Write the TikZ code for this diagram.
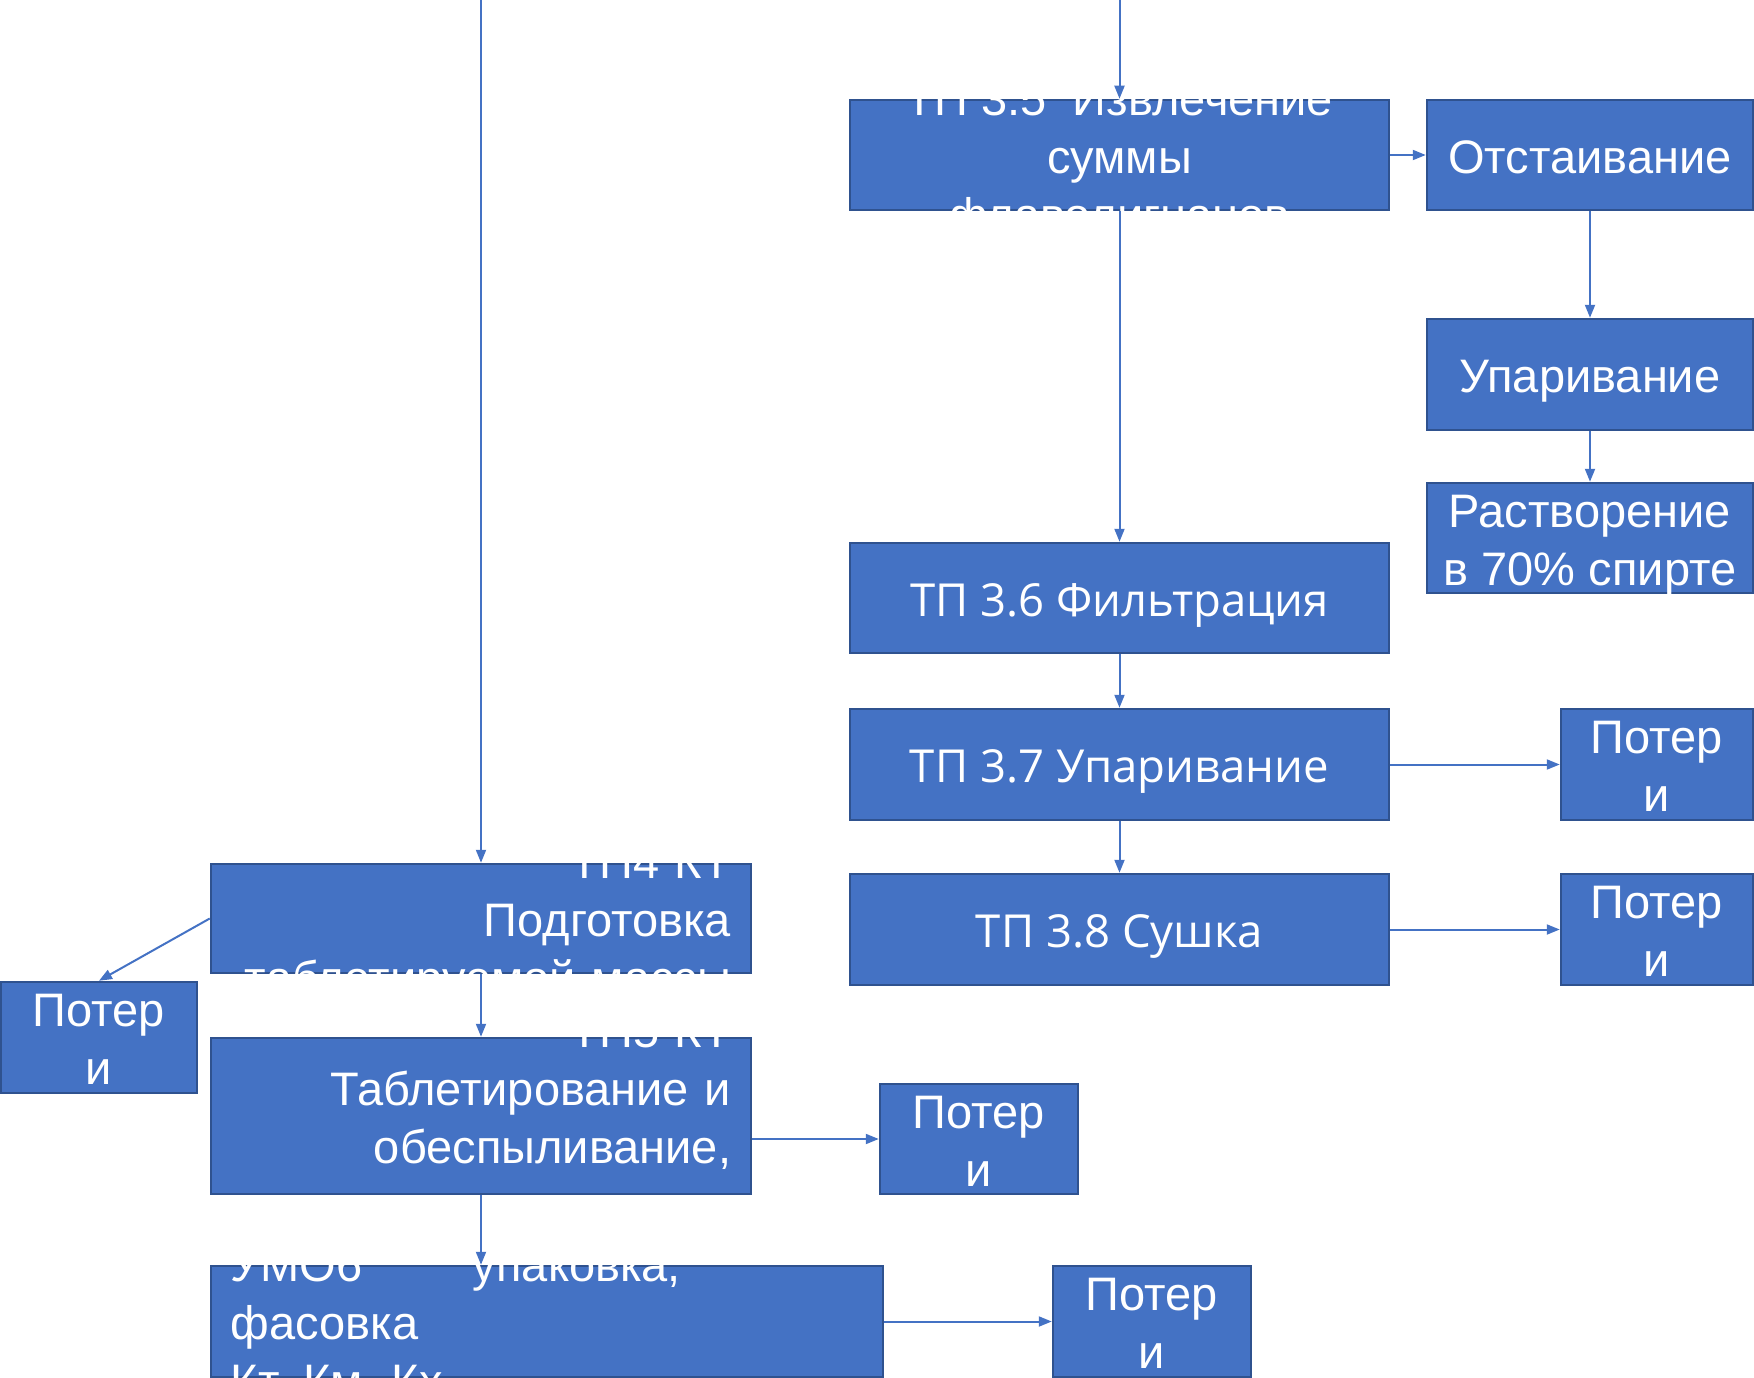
\documentclass[tikz,border=0pt]{standalone}
\usepackage{fontspec}
\setmainfont{Liberation Sans}
\newfontfamily\segf{Open Sans}
\usetikzlibrary{arrows.meta,calc}
\definecolor{boxc}{HTML}{4472C4}
\definecolor{bordc}{HTML}{2F528F}
\definecolor{linec}{HTML}{4472C4}
\newcommand\ls{\rule[-11pt]{0pt}{58pt}}
\newcommand\cliptext[4]{\begin{scope}\clip (#1.south west) rectangle (#1.north east);\node[#2] at (#3) {#4};\end{scope}}
\begin{document}
\begin{tikzpicture}[x=1pt,y=-1pt,
 pbox/.style={draw=bordc,line width=2.5pt,fill=boxc,rectangle,inner sep=0pt},
 ttxt/.style={text=white,inner sep=0pt,font=\fontsize{47}{58}\selectfont},
 stxt/.style={text=white,inner sep=0pt,font=\segf\fontsize{45.5}{58}\selectfont},
 conn/.style={draw=linec,line width=2pt,-{Triangle[length=13pt,width=10pt]}}]
\useasboundingbox (0,0) rectangle (1754,1378);
% boxes
\node[pbox,minimum width=539pt,minimum height=110pt] (a) at (1119.5,155) {};
\node[pbox,minimum width=326pt,minimum height=110pt] (otst) at (1590,155) {};
\node[pbox,minimum width=326pt,minimum height=111pt] (upar) at (1590,374.5) {};
\node[pbox,minimum width=326pt,minimum height=110pt] (rastv) at (1590,538) {};
\node[pbox,minimum width=539pt,minimum height=110pt] (t36) at (1119.5,598) {};
\node[pbox,minimum width=539pt,minimum height=111pt] (t37) at (1119.5,764.5) {};
\node[pbox,minimum width=539pt,minimum height=111pt] (t38) at (1119.5,929.5) {};
\node[pbox,minimum width=192pt,minimum height=111pt] (p37) at (1657,764.5) {};
\node[pbox,minimum width=192pt,minimum height=111pt] (p38) at (1657,929.5) {};
\node[pbox,minimum width=540pt,minimum height=109pt] (t4) at (481,918.5) {};
\node[pbox,minimum width=196pt,minimum height=111pt] (pl) at (99,1037.5) {};
\node[pbox,minimum width=540pt,minimum height=156pt] (t5) at (481,1116) {};
\node[pbox,minimum width=198pt,minimum height=110pt] (pm) at (979,1139) {};
\node[pbox,minimum width=672pt,minimum height=111pt] (u6) at (547,1321.5) {};
\node[pbox,minimum width=198pt,minimum height=111pt] (pb) at (1152,1321.5) {};
% texts
\cliptext{a}{ttxt,align=center,name=at}{a.center}{\ls ТП 3.5\ \ Извлечение\\\ls суммы\\\ls флаволигнанов}
\cliptext{otst}{ttxt,align=center,name=otstt}{otst.center}{\ls Отстаивание}
\cliptext{upar}{ttxt,align=center,name=upart}{upar.center}{\ls Упаривание}
\cliptext{rastv}{ttxt,align=center,name=rastvt}{rastv.center}{\ls Растворение\\\ls в 70\% спирте}
\cliptext{t36}{stxt,align=center,name=t36t}{t36.center}{\ls ТП 3.6 Фильтрация}
\cliptext{t37}{stxt,align=center,name=t37t}{t37.center}{\ls ТП 3.7 Упаривание}
\cliptext{t38}{stxt,align=center,name=t38t}{t38.center}{\ls ТП 3.8 Сушка}
\cliptext{p37}{ttxt,align=center,name=p37t}{p37.center}{\ls Потер\\\ls и}
\cliptext{p38}{ttxt,align=center,name=p38t}{p38.center}{\ls Потер\\\ls и}
\cliptext{pl}{ttxt,align=center,name=plt}{pl.center}{\ls Потер\\\ls и}
\cliptext{pm}{ttxt,align=center,name=pmt}{pm.center}{\ls Потер\\\ls и}
\cliptext{pb}{ttxt,align=center,name=pbt}{pb.center}{\ls Потер\\\ls и}
\cliptext{t4}{ttxt,align=right,text width=540pt,anchor=east,name=t4t}{$(t4.east)+(-21,0)$}{\ls ТП4 КТ\\\ls Подготовка\\\ls таблетируемой массы}
\cliptext{t5}{ttxt,align=right,text width=540pt,anchor=east,name=t5t}{$(t5.east)+(-21,0)$}{\ls ТП5 КТ\\\ls Таблетирование и\\\ls обеспыливание,\\\ls оценка качества}
\cliptext{u6}{ttxt,align=left,text width=640pt,anchor=west,name=u6t}{$(u6.west)+(21,0)$}{\ls\makebox[242pt][l]{УМО6}упаковка,\\\ls фасовка\\\ls Кт, Км, Кх}
% connectors
\coordinate (topL) at (481,0);
\coordinate (topR) at (1119.5,0);
\draw[conn] (topL) -- (t4.north);
\draw[conn] (t4.south) -- (t5.north);
\draw[conn] (t5.south) -- (t5.south |- u6.north);
\draw[conn] (t4.west) -- (pl.north);
\draw[conn] (t5.east |- pm.west) -- (pm.west);
\draw[conn] (u6.east) -- (pb.west);
\draw[conn] (topR) -- (a.north);
\draw[conn] (a.east) -- (otst.west);
\draw[conn] (a.south) -- (t36.north);
\draw[conn] (t36.south) -- (t37.north);
\draw[conn] (t37.south) -- (t38.north);
\draw[conn] (t37.east) -- (p37.west);
\draw[conn] (t38.east) -- (p38.west);
\draw[conn] (otst.south) -- (upar.north);
\draw[conn] (upar.south) -- (rastv.north);
\end{tikzpicture}
\end{document}
